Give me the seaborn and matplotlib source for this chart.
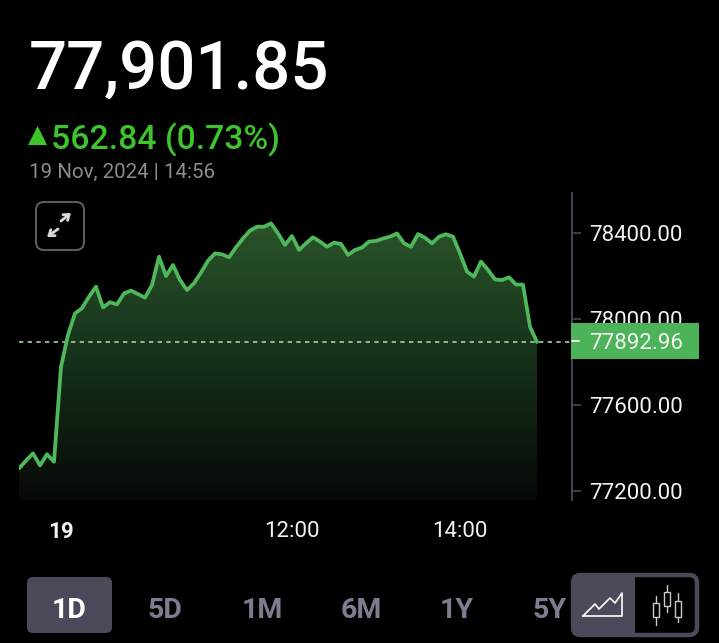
import numpy as np
import pandas as pd
import matplotlib.pyplot as plt
import seaborn as sns
from matplotlib.colors import LinearSegmentedColormap
from matplotlib.patches import FancyBboxPatch, Polygon, Rectangle

# minutes since midnight, 5 minute bars
minutes = [525, 530, 535, 540, 545, 550, 555, 560, 565, 570, 575, 580, 585, 590, 595,
           600, 605, 610, 615, 620, 625, 630, 635, 640, 645, 650, 655, 660, 665, 670,
           675, 680, 685, 690, 695, 700, 705, 710, 715, 720, 725, 730, 735, 740, 745,
           750, 755, 760, 765, 770, 775, 780, 785, 790, 795, 800, 805, 810, 815, 820,
           825, 830, 835, 840, 845, 850, 855, 860, 865, 870, 875, 880, 885, 890, 895]
values = [77305, 77341, 77375, 77319, 77371, 77336, 77778, 77926, 78026, 78050,
          78104, 78150, 78054, 78078, 78068, 78119, 78132, 78116, 78099, 78158,
          78290, 78200, 78251, 78181, 78135, 78166, 78216, 78271, 78305, 78301,
          78287, 78333, 78375, 78411, 78429, 78429, 78445, 78398, 78344, 78386,
          78321, 78352, 78380, 78360, 78336, 78355, 78349, 78298, 78321, 78332,
          78360, 78363, 78374, 78383, 78398, 78352, 78336, 78395, 78378, 78352,
          78383, 78394, 78383, 78305, 78220, 78197, 78267, 78228, 78184, 78181,
          78194, 78160, 78160, 77964, 77893]

y_ticks = [78400, 78000, 77600, 77200]
x_ticks = [555, 720, 840]
x_labels = ["19", "12:00", "14:00"]
last_price = 77892.96
headline = "77,901.85"
change = "562.84 (0.73%)"
stamp = "19 Nov, 2024 | 14:56"
ranges = ["1D", "5D", "1M", "6M", "1Y", "5Y"]

W, H = 719, 643
GREEN = "#4fb85c"
PANEL = "#4a4a5a"

sns.set_theme(style="dark", rc={"axes.facecolor": "black", "figure.facecolor": "black"})
plt.rcParams["font.family"] = ["Roboto", "DejaVu Sans"]

df = pd.DataFrame({"minute": minutes, "value": values})

fig = plt.figure(figsize=(W / 100, H / 100), dpi=100)
# plot area in pixels: x 19-572, y 193-500
ax = fig.add_axes([19 / W, 1 - 500 / H, (572 - 19) / W, (500 - 193) / H])

x0, x1 = 525, 920
y0, y1 = 77158, 78586

# gradient under the line
cmap = LinearSegmentedColormap.from_list("area", ["#060906", "#15301a", "#2a5429"])
grad = ax.imshow(np.linspace(1, 0, 256).reshape(-1, 1), extent=(x0, x1, y0, 78445),
                 aspect="auto", cmap=cmap, zorder=1)
clip = Polygon(list(zip(minutes, values)) + [(minutes[-1], y0), (minutes[0], y0)],
               closed=True, transform=ax.transData, facecolor="none", edgecolor="none")
ax.add_patch(clip)
grad.set_clip_path(clip)

sns.lineplot(data=df, x="minute", y="value", color=GREEN, linewidth=2.7, ax=ax,
             estimator=None, zorder=3)
ax.axhline(last_price, color="#9fd69a", linewidth=1.2, linestyle=(0, (2.6, 2.6)), zorder=2)

ax.set_xlim(x0, x1)
ax.set_ylim(y0, y1)
ax.set_xlabel("")
ax.set_ylabel("")
ax.grid(False)
for side in ["top", "left", "bottom"]:
    ax.spines[side].set_visible(False)
ax.spines["right"].set_color("#44445a")
ax.spines["right"].set_linewidth(1.4)

ax.yaxis.tick_right()
ax.set_yticks(y_ticks)
ax.set_yticklabels(["%.2f" % v for v in y_ticks])
ax.tick_params(axis="y", length=6.5, width=1.2, color="#44445a", labelcolor="#f2f2f2",
               labelsize=16, pad=5.5, right=True)
ax.set_xticks(x_ticks)
ax.set_xticklabels(x_labels)
ax.tick_params(axis="x", length=0, labelcolor="#f2f2f2", labelsize=16, pad=15)
ax.get_xticklabels()[0].set_fontweight("bold")

# overlay in pixel coordinates for the app chrome
ui = fig.add_axes([0, 0, 1, 1], facecolor="none")
ui.set_xlim(0, W)
ui.set_ylim(H, 0)
ui.axis("off")

ui.text(29, 64, headline, color="white", fontsize=48.4, va="center_baseline", ha="left",
        fontweight="medium")
ui.text(27.5, 135, "\u25b2", color="#3fc52c", fontsize=18, va="center", ha="left",
        family=["DejaVu Sans"])
ui.text(51, 136, change, color="#3fc52c", fontsize=24.3, va="center_baseline", ha="left",
        fontweight="medium")
ui.text(29, 170, stamp, color="#8c8c8c", fontsize=14.8, va="center_baseline", ha="left")

# expand button
ui.add_patch(FancyBboxPatch((36, 202), 48, 48, boxstyle="round,pad=0,rounding_size=8",
                            facecolor="black", edgecolor="#5a5a5a", linewidth=1.5))
for a, b in [((61, 221), (71, 213)), ((58, 229), (47, 237))]:
    ui.annotate("", xy=b, xytext=a,
                arrowprops=dict(arrowstyle="->,head_length=0.3,head_width=0.22",
                                color="#d8d8d8", lw=2, shrinkA=0, shrinkB=0))

# last price tag
ui.add_patch(Rectangle((571, 323), 128, 36, facecolor="#4cb358", edgecolor="none"))
ui.plot([572, 579], [341, 341], color="white", lw=1.3)
ui.text(589.5, 341, "%.2f" % last_price, color="#f4f4f4", fontsize=16,
        va="center_baseline", ha="left")

# range buttons
ui.add_patch(FancyBboxPatch((27, 577), 85, 56, boxstyle="round,pad=0,rounding_size=6",
                            facecolor=PANEL, edgecolor="none"))
for label, cx in zip(ranges, [69, 165, 262, 361, 457, 550]):
    ui.text(cx, 607, label, color="white" if label == "1D" else "#7d7d8f", fontsize=20.5,
            fontweight="bold", ha="center", va="center_baseline")

# chart type toggle
ui.add_patch(FancyBboxPatch((573, 575), 124, 60, boxstyle="round,pad=0,rounding_size=8",
                            facecolor="black", edgecolor=PANEL, linewidth=3.2))
ui.add_patch(Rectangle((573, 575), 62, 60, facecolor=PANEL, edgecolor="none"))
ui.plot([583, 595, 599, 610, 615, 622, 622, 583],
        [616, 604, 609, 598, 603, 593, 616, 616], color="white", lw=1.2)
for cx, wick, body in [(656, (596, 625), (603, 617)),
                       (667, (585, 612), (592, 606)),
                       (678, (593, 622), (601, 617))]:
    ui.plot([cx, cx], [wick[0], body[0]], color="#c8c8c8", lw=1)
    ui.plot([cx, cx], [body[1], wick[1]], color="#c8c8c8", lw=1)
    ui.add_patch(Rectangle((cx - 3, body[0]), 6, body[1] - body[0], facecolor="none",
                           edgecolor="#c8c8c8", lw=1))

fig.savefig("out.png", dpi=100, facecolor="black")
